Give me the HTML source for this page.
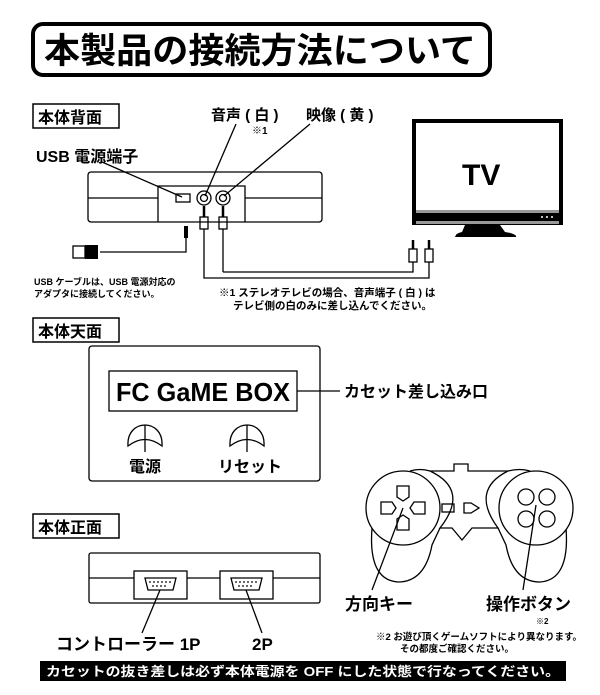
<!DOCTYPE html>
<html><head><meta charset="utf-8"><style>
html,body{margin:0;padding:0;background:#fff;}
svg{display:block;}
text{font-family:"Liberation Sans","Noto Sans CJK JP",sans-serif;font-weight:bold;fill:#000;}
</style></head><body>
<svg width="600" height="695" viewBox="0 0 600 695" xmlns="http://www.w3.org/2000/svg">
<g fill="none" stroke="#000">
<rect x="33" y="24" width="457" height="51" rx="10" stroke-width="4"/>
</g>
<text x="44" y="63" font-size="35" font-weight="900" textLength="432" lengthAdjust="spacingAndGlyphs">本製品の接続方法について</text>

<rect x="33" y="104" width="86" height="24" fill="none" stroke="#000" stroke-width="1.5"/>
<text x="38" y="123" font-size="16">本体背面</text>
<text x="211" y="120" font-size="15">音声 ( 白 )</text>
<text x="252" y="134" font-size="10">※1</text>
<text x="306" y="120" font-size="15">映像 ( 黄 )</text>
<text x="36" y="162" font-size="16">USB 電源端子</text>
<g fill="none" stroke="#000" stroke-width="1.3">
<rect x="88" y="172" width="234" height="50" rx="3"/>
<line x1="88" y1="198" x2="158" y2="198"/><line x1="245" y1="198" x2="322" y2="198"/>
<path d="M158 222 V186 H245 V222"/>
<rect x="176" y="194" width="14" height="8"/>
<circle cx="204" cy="198" r="7"/><circle cx="204" cy="198" r="3.5"/>
<circle cx="223" cy="198" r="7"/><circle cx="223" cy="198" r="3.5"/>
<line x1="102" y1="162" x2="182" y2="197"/>
<line x1="236" y1="124" x2="205" y2="196"/>
<line x1="310" y1="124" x2="224" y2="196"/>
<line x1="204" y1="206" x2="204" y2="217" stroke-width="2.5"/>
<line x1="223" y1="206" x2="223" y2="217" stroke-width="2.5"/>
<rect x="200" y="217" width="8" height="12"/><rect x="219" y="217" width="8" height="12"/>
<path d="M204 229 V278 H429 V262"/>
<path d="M223 229 V272"/>
<path d="M223 272 H413 V262"/>
<rect x="409" y="249" width="8" height="13"/><rect x="425" y="249" width="8" height="13"/>
<line x1="413" y1="240" x2="413" y2="249" stroke-width="2.5"/><line x1="429" y1="240" x2="429" y2="249" stroke-width="2.5"/>
<path d="M186 238 V252 H100"/>
<rect x="73" y="246" width="12" height="12"/>
</g>
<rect x="184" y="226" width="4" height="12" fill="#000"/>
<rect x="85" y="245" width="13" height="14" fill="#000"/>
<text x="34" y="285" font-size="9">USB ケーブルは、USB 電源対応の</text>
<text x="34" y="297" font-size="9">アダプタに接続してください。</text>
<text x="219" y="296" font-size="10.5">※1 ステレオテレビの場合、音声端子 ( 白 ) は</text>
<text x="233" y="309" font-size="10.5">テレビ側の白のみに差し込んでください。</text>
<rect x="414" y="121" width="147" height="102" fill="#fff" stroke="#000" stroke-width="4"/>
<rect x="416" y="210" width="143" height="3" fill="#999"/>
<rect x="416" y="213" width="143" height="8" fill="#000"/>
<rect x="416" y="221" width="143" height="3" fill="#999"/>
<circle cx="542" cy="217" r="1" fill="#fff"/><circle cx="547" cy="217" r="1" fill="#fff"/><circle cx="552" cy="217" r="1" fill="#fff"/>
<path d="M465 225 H500 L505 232 Q517 234 516 237 H455 Q456 233 462 232 Z" fill="#000"/>
<text x="462" y="185" font-size="30" font-weight="900">TV</text>

<rect x="33" y="318" width="86" height="24" fill="none" stroke="#000" stroke-width="1.5"/>
<text x="38" y="337" font-size="16">本体天面</text>
<g fill="none" stroke="#000" stroke-width="1.3">
<rect x="89" y="346" width="231" height="135" rx="3"/>
<rect x="109" y="371" width="188" height="40"/>
<line x1="297" y1="391" x2="340" y2="391"/>
<path d="M128 446 C126 418 164 418 162 446 Q145 433 128 446 Z"/>
<line x1="145" y1="425" x2="145" y2="452"/>
<path d="M230 446 C228 418 266 418 264 446 Q247 433 230 446 Z"/>
<line x1="247" y1="425" x2="247" y2="452"/>
</g>
<text x="116" y="401" font-size="26" font-weight="900" textLength="174" lengthAdjust="spacingAndGlyphs">FC GaME BOX</text>
<text x="344" y="397" font-size="16">カセット差し込み口</text>
<text x="129" y="472" font-size="16">電源</text>
<text x="218" y="472" font-size="16">リセット</text>

<rect x="33" y="514" width="86" height="24" fill="none" stroke="#000" stroke-width="1.5"/>
<text x="38" y="533" font-size="16">本体正面</text>
<g fill="none" stroke="#000" stroke-width="1.3">
<rect x="89" y="553" width="231" height="50" rx="2"/>
<line x1="89" y1="578" x2="134" y2="578"/><line x1="187" y1="578" x2="220" y2="578"/><line x1="273" y1="578" x2="320" y2="578"/>
<rect x="134" y="571" width="53" height="28"/><rect x="220" y="571" width="53" height="28"/>
<path d="M145 578 H176 L173 590 H148 Z"/><path d="M231 578 H262 L259 590 H234 Z"/>
<line x1="160" y1="590" x2="142" y2="633"/>
<line x1="246" y1="590" x2="262" y2="633"/>
</g>
<g fill="#000">
<circle cx="150" cy="582" r="0.9"/><circle cx="154" cy="582" r="0.9"/><circle cx="158" cy="582" r="0.9"/><circle cx="162" cy="582" r="0.9"/><circle cx="166" cy="582" r="0.9"/><circle cx="170" cy="582" r="0.9"/>
<circle cx="153" cy="586" r="0.9"/><circle cx="157" cy="586" r="0.9"/><circle cx="161" cy="586" r="0.9"/><circle cx="165" cy="586" r="0.9"/>
<circle cx="236" cy="582" r="0.9"/><circle cx="240" cy="582" r="0.9"/><circle cx="244" cy="582" r="0.9"/><circle cx="248" cy="582" r="0.9"/><circle cx="252" cy="582" r="0.9"/><circle cx="256" cy="582" r="0.9"/>
<circle cx="239" cy="586" r="0.9"/><circle cx="243" cy="586" r="0.9"/><circle cx="247" cy="586" r="0.9"/><circle cx="251" cy="586" r="0.9"/>
</g>
<text x="56" y="650" font-size="17">コントローラー 1P</text>
<text x="252" y="650" font-size="17">2P</text>

<g fill="none" stroke="#000" stroke-width="1.3">
<path d="M410 471 Q420 468 430 471 H454 V464 H468 V471 H508 Q520 468 530 471"/>
<path d="M430 471 Q470 490 440 528 H452 L462 540 L472 528 H498 Q470 490 508 471"/>
<path d="M372 528 Q368 580 398 582 Q425 582 432 545 L440 528"/>
<path d="M566 528 Q570 580 540 582 Q513 582 506 545 L498 528"/>
<circle cx="403" cy="508" r="37" fill="#fff"/>
<circle cx="536" cy="508" r="37" fill="#fff"/>
<path d="M397 486 H409 V497 L403 501 L397 497 Z"/>
<path d="M397 530 H409 V519 L403 515 L397 519 Z"/>
<path d="M381 502 V514 H392 L396 508 L392 502 Z"/>
<path d="M425 502 V514 H414 L410 508 L414 502 Z"/>
<rect x="442" y="504" width="12" height="8"/>
<path d="M464 503 H471 L479 508 L471 513 H464 Z"/>
<circle cx="526" cy="497" r="8"/><circle cx="547" cy="497" r="8"/>
<circle cx="526" cy="519" r="8"/><circle cx="547" cy="519" r="8"/>
<line x1="403" y1="508" x2="372" y2="590"/>
<line x1="536" y1="505" x2="523" y2="590"/>
</g>
<text x="345" y="610" font-size="17">方向キー</text>
<text x="486" y="610" font-size="17">操作ボタン</text>
<text x="536" y="624" font-size="8">※2</text>
<text x="376" y="640" font-size="9.5">※2 お遊び頂くゲームソフトにより異なります。</text>
<text x="400" y="652" font-size="9.5">その都度ご確認ください。</text>

<rect x="40" y="661" width="526" height="20" fill="#000"/>
<text x="46" y="676" font-size="13" style="fill:#fff" textLength="514" lengthAdjust="spacingAndGlyphs">カセットの抜き差しは必ず本体電源を OFF にした状態で行なってください。</text>
</svg>
</body></html>
